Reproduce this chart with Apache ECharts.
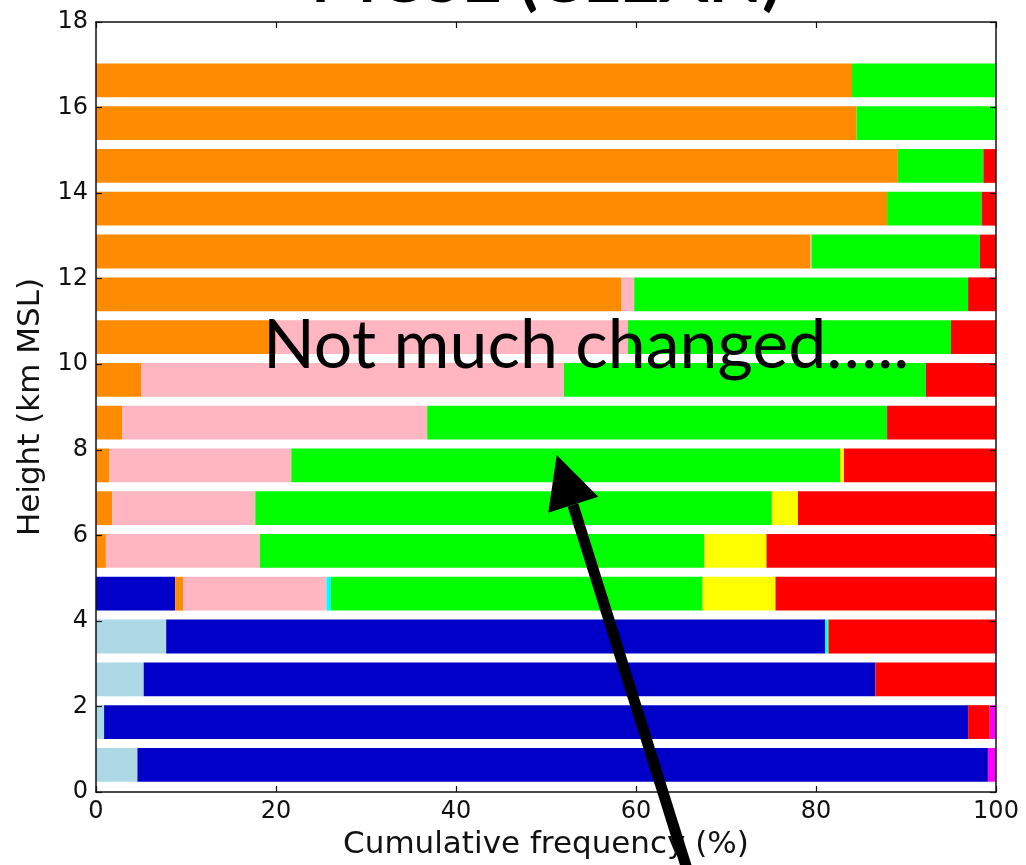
<!DOCTYPE html>
<html>
<head>
<meta charset="utf-8">
<title>MCSE (CLEAN)</title>
<script src="https://cdn.jsdelivr.net/npm/echarts@6/dist/echarts.min.js"></script>
<style>
  html, body { margin: 0; padding: 0; background: #ffffff; }
  #chart { width: 1026px; height: 865px; }
</style>
</head>
<body>
<div id="chart"></div>
<script>
// Height bands (km MSL): each bar covers one 1-km layer starting at this base
const bandBaseKm = [0, 1, 2, 3, 4, 5, 6, 7, 8, 9, 10, 11, 12, 13, 14, 15, 16];

// Frequency of each hydrometeor class per layer (%), stacked left to right
const lightBlueVals = [4.6, 0.9, 5.3, 7.8, 0, 0, 0, 0, 0, 0, 0, 0, 0, 0, 0, 0, 0];
const blueVals      = [94.5, 96.0, 81.3, 73.2, 8.8, 0, 0, 0, 0, 0, 0, 0, 0, 0, 0, 0, 0];
const orangeVals    = [0, 0, 0, 0, 0.9, 1.1, 1.8, 1.5, 2.9, 5.0, 20.0, 58.4, 79.4, 87.9, 89.1, 84.5, 84.0];
const pinkVals      = [0, 0, 0, 0, 15.9, 17.1, 15.9, 20.2, 33.9, 47.0, 39.1, 1.4, 0.1, 0, 0, 0, 0];
const cyanVals      = [0, 0, 0, 0.3, 0.5, 0, 0, 0, 0, 0, 0, 0, 0, 0, 0, 0, 0];
const greenVals     = [0, 0, 0, 0.1, 41.3, 49.4, 57.4, 61.0, 51.1, 40.2, 35.9, 37.1, 18.7, 10.5, 9.5, 15.5, 16.0];
const yellowVals    = [0, 0, 0, 0, 8.1, 6.9, 2.9, 0.4, 0, 0, 0, 0, 0, 0, 0, 0, 0];
const redVals       = [0, 2.4, 13.3, 18.5, 24.5, 25.5, 22.0, 16.9, 12.1, 7.8, 5.0, 3.1, 1.8, 1.6, 1.4, 0, 0];
const magentaVals   = [0.9, 0.7, 0.1, 0.1, 0, 0, 0, 0, 0, 0, 0, 0, 0, 0, 0, 0, 0];

// Axis ticks
const xTicks = [0, 20, 40, 60, 80, 100];
const yTicks = [0, 2, 4, 6, 8, 10, 12, 14, 16, 18];

const classes = [
  { vals: lightBlueVals, color: '#add8e6' },
  { vals: blueVals,      color: '#0000c8' },
  { vals: orangeVals,    color: '#ff8c00' },
  { vals: pinkVals,      color: '#ffb6c1' },
  { vals: cyanVals,      color: '#00ffff' },
  { vals: greenVals,     color: '#00ff00' },
  { vals: yellowVals,    color: '#ffff00' },
  { vals: redVals,       color: '#ff0000' },
  { vals: magentaVals,   color: '#ff00ff' }
];

// Vertical extent of each bar inside its layer
const BAR_LO = 0.24;
const BAR_HI = 1.03;

// Build cumulative [start, end, bottom, top] rows for each class
const cum = bandBaseKm.map(() => 0);
const series = classes.map(c => {
  const data = [];
  bandBaseKm.forEach((base, i) => {
    const v = c.vals[i];
    const start = cum[i];
    cum[i] += v;
    if (v > 0) data.push([start, start + v, base + BAR_LO, base + BAR_HI]);
  });
  return {
    type: 'custom',
    z: 2,
    data: data,
    encode: { x: [0, 1], y: [2, 3] },
    itemStyle: { color: c.color },
    renderItem: function (params, api) {
      const p0 = api.coord([api.value(0), api.value(3)]);
      const p1 = api.coord([api.value(1), api.value(2)]);
      return {
        type: 'rect',
        shape: { x: p0[0], y: p0[1], width: p1[0] - p0[0], height: p1[1] - p0[1] },
        style: { fill: c.color }
      };
    }
  };
});

const axisFont = 'DejaVu Sans';
const frameLine = () => ({ show: true, onZero: false, lineStyle: { color: '#111', width: 1.5 } });
const innerTick = () => ({ show: true, inside: true, length: 6, lineStyle: { color: '#111', width: 1.2 } });

const chart = echarts.init(document.getElementById('chart'), null, { renderer: 'canvas' });

chart.setOption({
  animation: false,
  backgroundColor: '#ffffff',
  grid: { left: 96, right: 30, top: 22, bottom: 73, containLabel: false },
  xAxis: [
    {
      type: 'value', min: xTicks[0], max: xTicks[xTicks.length - 1], interval: 20,
      position: 'bottom', z: 10,
      axisLine: frameLine(), axisTick: innerTick(), splitLine: { show: false },
      axisLabel: { color: '#111', fontFamily: axisFont, fontSize: 24, margin: 8 },
      name: 'Cumulative frequency (%)', nameLocation: 'middle', nameGap: 37,
      nameTextStyle: { color: '#111', fontFamily: axisFont, fontSize: 31 }
    },
    {
      type: 'value', min: xTicks[0], max: xTicks[xTicks.length - 1], interval: 20,
      position: 'top', z: 10,
      axisLine: frameLine(), axisTick: innerTick(), splitLine: { show: false },
      axisLabel: { show: false }
    }
  ],
  yAxis: [
    {
      type: 'value', min: yTicks[0], max: yTicks[yTicks.length - 1], interval: 2,
      position: 'left', z: 10,
      axisLine: frameLine(), axisTick: innerTick(), splitLine: { show: false },
      axisLabel: { color: '#111', fontFamily: axisFont, fontSize: 24, margin: 8 },
      name: 'Height (km MSL)', nameLocation: 'middle', nameGap: 46,
      nameTextStyle: { color: '#111', fontFamily: axisFont, fontSize: 31 }
    },
    {
      type: 'value', min: yTicks[0], max: yTicks[yTicks.length - 1], interval: 2,
      position: 'right', z: 10,
      axisLine: frameLine(), axisTick: innerTick(), splitLine: { show: false },
      axisLabel: { show: false }
    }
  ],
  series: series,
  graphic: [
    // Slide title, mostly above the top edge of the page
    {
      type: 'text', z: 100, x: 546, y: -21,
      style: {
        text: 'MCSE (CLEAN)', fill: '#000',
        font: 'bold 70px Lato', textAlign: 'center', textVerticalAlign: 'middle'
      }
    },
    // Annotation text
    {
      type: 'text', z: 100, x: 263, y: 346,
      style: {
        text: 'Not much changed…..', fill: '#000',
        font: '68px Lato', textAlign: 'left', textVerticalAlign: 'middle'
      }
    },
    // Annotation arrow: shaft and head
    {
      type: 'polyline', z: 100,
      shape: { points: [[692, 885], [573, 505]] },
      style: { stroke: '#000', lineWidth: 11, fill: null }
    },
    {
      type: 'polygon', z: 101,
      shape: { points: [[556.7, 455], [548.3, 512.7], [598.3, 496.7]] },
      style: { fill: '#000' }
    }
  ]
});
</script>
</body>
</html>
